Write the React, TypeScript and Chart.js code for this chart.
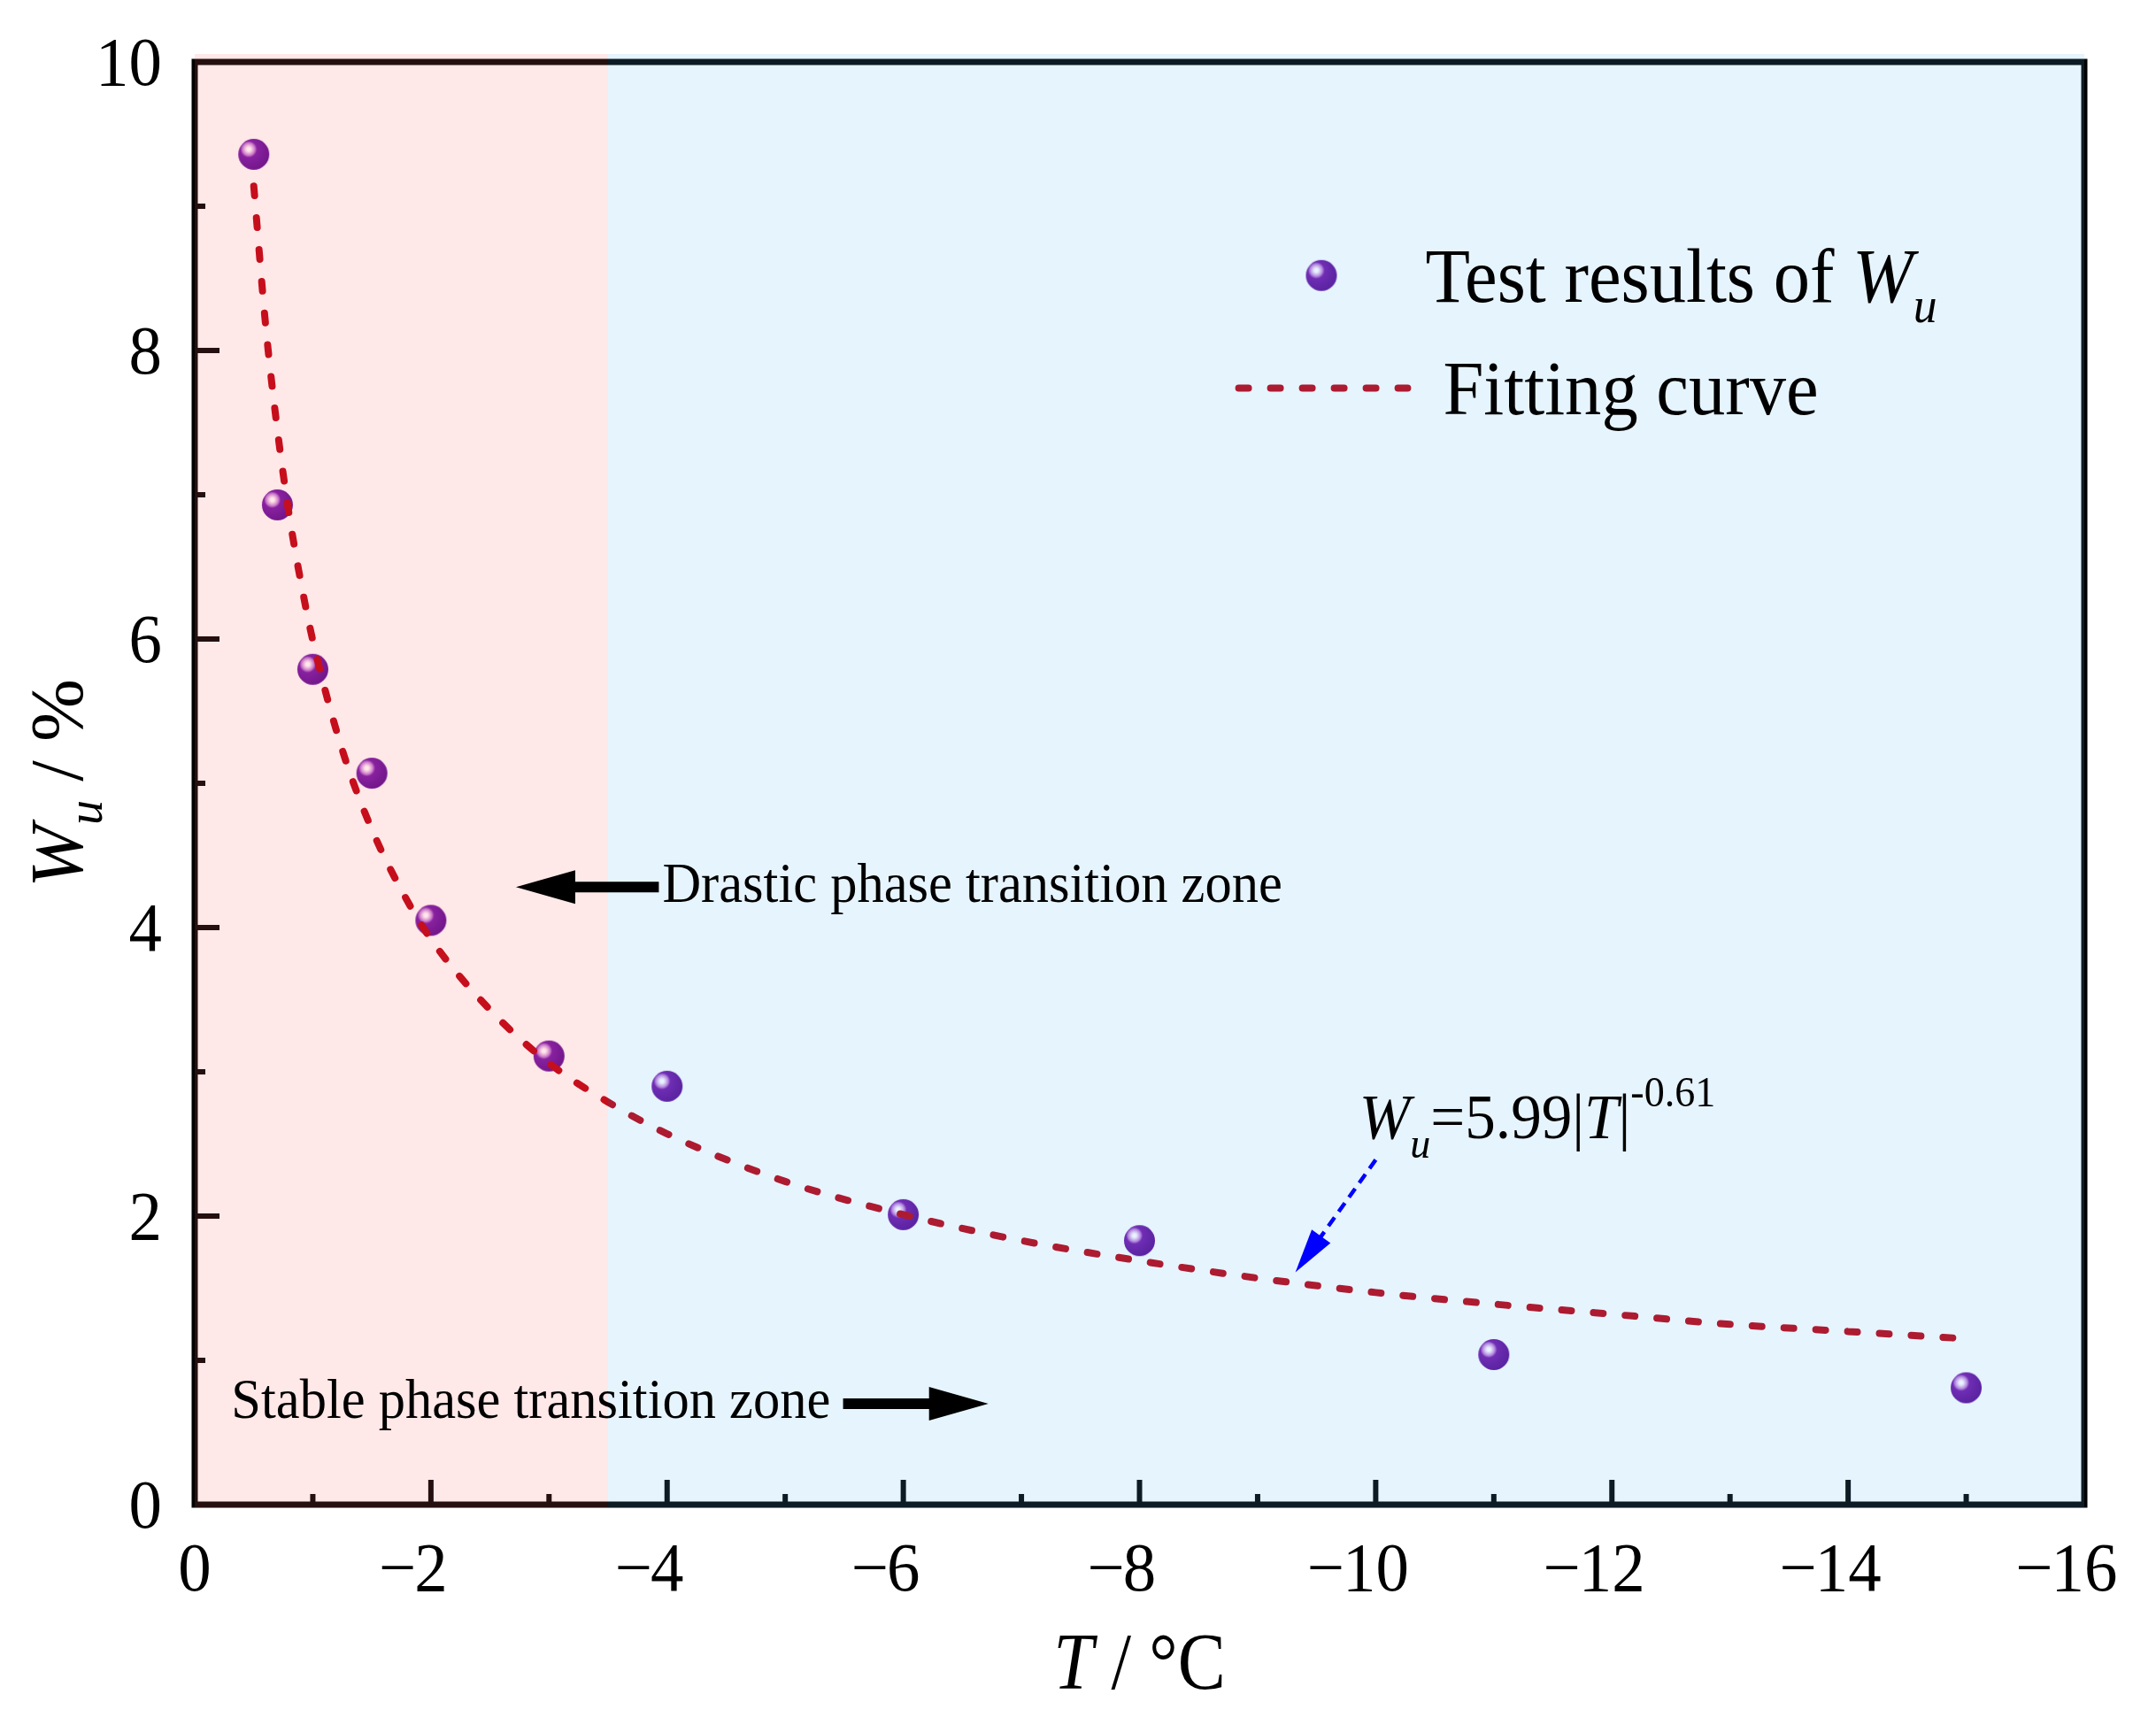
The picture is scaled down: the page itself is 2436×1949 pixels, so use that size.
import { useEffect, useRef } from "react";
import { Chart, registerables } from "chart.js";

Chart.register(...registerables);

// measured water content (test points)
const testT = [-0.5, -0.7, -1, -1.5, -2, -3, -4, -6, -8, -11, -15];
const testW = [9.36, 6.93, 5.79, 5.07, 4.05, 3.11, 2.9, 2.01, 1.83, 1.04, 0.81];

// fitting curve
const fitT = [-0.5, -0.6, -0.7, -0.8, -0.9, -1, -1.25, -1.5, -1.75, -2, -2.5, -3, -3.5, -4, -5, -6, -7, -8, -9, -10, -11, -12, -13, -14, -15];
const fitW = [9.14, 8.18, 7.45, 6.86, 6.39, 5.99, 5.23, 4.68, 4.26, 3.92, 3.43, 3.06, 2.79, 2.57, 2.24, 2.01, 1.83, 1.69, 1.57, 1.47, 1.39, 1.32, 1.25, 1.2, 1.15];

const xRange = [-16, 0];
const yRange = [0, 10];
const zoneBoundary = -3.5;

const SERIF = '"Liberation Serif", "Times New Roman", serif';
const CURVE = "#bd0010";
const PINK = "rgba(255, 102, 102, 0.15)";
const BLUE = "rgba(88, 182, 242, 0.15)";
const SX = 0.96;

type Seg = { t: string; font: string; dy?: number };

const f = (size: number, italic = false) => `${italic ? "italic " : ""}${size}px ${SERIF}`;

function drawRich(ctx: CanvasRenderingContext2D, segs: Seg[], x: number, y: number, align: "left" | "center" | "right", sx = SX) {
  ctx.save();
  ctx.translate(x, y);
  ctx.scale(sx, 1);
  ctx.textAlign = "left";
  ctx.textBaseline = "alphabetic";
  ctx.fillStyle = "#000";
  let total = 0;
  segs.forEach((s) => {
    ctx.font = s.font;
    total += ctx.measureText(s.t).width;
  });
  let cx = align === "left" ? 0 : align === "center" ? -total / 2 : -total;
  segs.forEach((s) => {
    ctx.font = s.font;
    ctx.fillText(s.t, cx, s.dy ?? 0);
    cx += ctx.measureText(s.t).width;
  });
  ctx.restore();
}

function makeBall(r: number) {
  const c = document.createElement("canvas");
  const s = Math.ceil(r * 2) + 2;
  c.width = s;
  c.height = s;
  const g = c.getContext("2d")!;
  const cx = s / 2;
  const cy = s / 2;
  const hx = cx - r * 0.33;
  const hy = cy - r * 0.33;
  const grad = g.createRadialGradient(hx, hy, 0, hx, hy, r * 1.35);
  grad.addColorStop(0, "#ffffff");
  grad.addColorStop(0.08, "#ffffff");
  grad.addColorStop(0.18, "#eac6f2");
  grad.addColorStop(0.3, "#bf7ad8");
  grad.addColorStop(0.4, "#7416aa");
  grad.addColorStop(1, "#5c0a94");
  g.fillStyle = grad;
  g.beginPath();
  g.arc(cx, cy, r, 0, Math.PI * 2);
  g.fill();
  return c;
}

// block arrow: tip at (tx, ty), tail at (sx, sy)
function blockArrow(ctx: CanvasRenderingContext2D, sx: number, sy: number, tx: number, ty: number) {
  const ang = Math.atan2(ty - sy, tx - sx);
  const len = Math.hypot(tx - sx, ty - sy);
  ctx.save();
  ctx.translate(tx, ty);
  ctx.rotate(ang);
  ctx.fillStyle = "#000";
  ctx.beginPath();
  ctx.moveTo(0, 0);
  ctx.lineTo(-67, -19);
  ctx.lineTo(-67, -6);
  ctx.lineTo(-len, -6);
  ctx.lineTo(-len, 6);
  ctx.lineTo(-67, 6);
  ctx.lineTo(-67, 19);
  ctx.closePath();
  ctx.fill();
  ctx.restore();
}

export default function App() {
  const canvasRef = useRef<HTMLCanvasElement | null>(null);
  const chartRef = useRef<Chart | null>(null);

  useEffect(() => {
    document.body.style.margin = "0";
    if (!canvasRef.current) return;
    if (chartRef.current) chartRef.current.destroy();

    const ball = makeBall(17.5);

    const decor = {
      id: "decor",
      afterDatasetsDraw(chart: any) {
        const { ctx, chartArea, scales } = chart;
        const { left, right, top, bottom } = chartArea;
        const x = scales.x;
        const y = scales.y;
        const X = (v: number) => x.getPixelForValue(v);
        const Y = (v: number) => y.getPixelForValue(v);

        // legend markers
        ctx.drawImage(ball, X(-9.54) - ball.width / 2, Y(8.52) - ball.height / 2);
        ctx.save();
        ctx.strokeStyle = CURVE;
        ctx.lineWidth = 8;
        ctx.lineCap = "round";
        ctx.setLineDash([11, 25]);
        ctx.beginPath();
        ctx.moveTo(X(-8.84), Y(7.74));
        ctx.lineTo(X(-10.27), Y(7.74));
        ctx.stroke();
        ctx.restore();

        // frame + inward ticks
        ctx.save();
        ctx.strokeStyle = "#000";
        ctx.fillStyle = "#000";
        ctx.lineWidth = 7;
        ctx.strokeRect(left, top, right - left, bottom - top);
        for (let i = 1; i < 16; i++) {
          const px = X(-i);
          const len = i % 2 === 0 ? 28 : 12;
          ctx.fillRect(px - 3, bottom - len, 6, len);
        }
        for (let j = 1; j < 10; j++) {
          const py = Y(j);
          const len = j % 2 === 0 ? 28 : 12;
          ctx.fillRect(left, py - 3, len, 6);
        }
        // zone shading on top
        const bx = X(zoneBoundary);
        ctx.fillStyle = PINK;
        ctx.fillRect(left, top - 9, bx - left, bottom - top + 12);
        ctx.fillStyle = BLUE;
        ctx.fillRect(bx, top - 9, right - bx, bottom - top + 12);
        ctx.restore();
      },
      afterDraw(chart: any) {
        const { ctx, chartArea, scales } = chart;
        const { left, right, top, bottom } = chartArea;
        const x = scales.x;
        const y = scales.y;
        const X = (v: number) => x.getPixelForValue(v);
        const Y = (v: number) => y.getPixelForValue(v);

        // tick labels
        y.ticks.forEach((t: any) => {
          drawRich(ctx, [{ t: String(t.value), font: f(78) }], left - 37, Y(t.value) + 26, "right");
        });
        x.ticks.forEach((t: any) => {
          const v = t.value;
          const num = String(Math.abs(v));
          const px = X(v);
          ctx.save();
          ctx.font = f(78);
          const w = ctx.measureText(num).width * SX;
          ctx.restore();
          drawRich(ctx, [{ t: num, font: f(78) }], px, bottom + 97, "center");
          if (v !== 0) drawRich(ctx, [{ t: "\u2212", font: f(78) }], px - w / 2 + 2, bottom + 97, "right");
        });

        // axis titles
        drawRich(
          ctx,
          [
            { t: "T", font: f(90, true) },
            { t: " / \u00b0C", font: f(90) },
          ],
          (left + right) / 2,
          bottom + 208,
          "center",
          0.9
        );
        ctx.save();
        ctx.translate(93, (top + bottom) / 2);
        ctx.rotate(-Math.PI / 2);
        drawRich(
          ctx,
          [
            { t: "W", font: f(85, true) },
            { t: "u", font: f(56, true), dy: 22 },
            { t: " / %", font: f(85) },
          ],
          0,
          0,
          "center",
          1
        );
        ctx.restore();

        // legend text
        drawRich(
          ctx,
          [
            { t: "Test results of ", font: f(86) },
            { t: "W", font: f(86, true) },
            { t: "u", font: f(56, true), dy: 23 },
          ],
          X(-10.42),
          Y(8.34),
          "left"
        );
        drawRich(ctx, [{ t: "Fitting curve", font: f(86) }], X(-10.57), Y(7.56), "left");

        // zone annotations
        drawRich(ctx, [{ t: "Drastic phase transition zone", font: f(63) }], X(-3.96), Y(4.18), "left");
        blockArrow(ctx, X(-3.93), Y(4.28), X(-2.72), Y(4.28));
        drawRich(ctx, [{ t: "Stable phase transition zone", font: f(63) }], X(-0.31), Y(0.6), "left");
        blockArrow(ctx, X(-5.49), Y(0.7), X(-6.72), Y(0.7));

        // fitted equation
        drawRich(
          ctx,
          [
            { t: "W", font: f(72, true) },
            { t: "u", font: f(48, true), dy: 22 },
            { t: "=5.99|", font: f(72) },
            { t: "T", font: f(72, true) },
            { t: "|", font: f(72) },
            { t: "-0.61", font: f(48), dy: -36 },
          ],
          X(-9.86),
          Y(2.54),
          "left"
        );

        // blue dashed pointer
        const sx0 = X(-10.0);
        const sy0 = Y(2.39);
        const tx = X(-9.32);
        const ty = Y(1.61);
        const ang = Math.atan2(ty - sy0, tx - sx0);
        const len = Math.hypot(tx - sx0, ty - sy0);
        ctx.save();
        ctx.translate(tx, ty);
        ctx.rotate(ang);
        ctx.strokeStyle = "#0000ff";
        ctx.fillStyle = "#0000ff";
        ctx.lineWidth = 4.5;
        ctx.setLineDash([12, 8]);
        ctx.beginPath();
        ctx.moveTo(-len, 0);
        ctx.lineTo(-44, 0);
        ctx.stroke();
        ctx.setLineDash([]);
        ctx.beginPath();
        ctx.moveTo(0, 0);
        ctx.lineTo(-50, -13);
        ctx.lineTo(-50, 13);
        ctx.closePath();
        ctx.fill();
        ctx.restore();
      },
    };

    chartRef.current = new Chart(canvasRef.current, {
      type: "scatter",
      data: {
        datasets: [
          {
            label: "Fitting curve",
            data: fitT.map((t, i) => ({ x: t, y: fitW[i] })),
            showLine: true,
            borderColor: CURVE,
            borderWidth: 8,
            borderDash: [11, 25],
            borderCapStyle: "round",
            pointRadius: 0,
            cubicInterpolationMode: "monotone",
            order: 1,
          },
          {
            label: "Test results of Wu",
            data: testT.map((t, i) => ({ x: t, y: testW[i] })),
            pointStyle: ball,
            pointRadius: 18,
            showLine: false,
            order: 2,
          },
        ],
      },
      options: {
        responsive: true,
        maintainAspectRatio: false,
        animation: false,
        layout: { padding: { top: 70, right: 81, bottom: 0, left: 0 } },
        plugins: {
          legend: { display: false },
          tooltip: { enabled: false },
        },
        scales: {
          x: {
            type: "linear",
            min: xRange[0],
            max: xRange[1],
            reverse: true,
            ticks: { stepSize: 2, display: false },
            grid: { display: false },
            border: { display: false },
            afterFit: (s: any) => {
              s.height = 249;
            },
          },
          y: {
            type: "linear",
            min: yRange[0],
            max: yRange[1],
            ticks: { stepSize: 2, display: false },
            grid: { display: false },
            border: { display: false },
            afterFit: (s: any) => {
              s.width = 220;
            },
          },
        },
      },
      plugins: [decor],
    });

    return () => {
      if (chartRef.current) {
        chartRef.current.destroy();
        chartRef.current = null;
      }
    };
  }, []);

  return (
    <div style={{ position: "relative", width: 2436, height: 1949, background: "#fff" }}>
      <canvas ref={canvasRef}></canvas>
    </div>
  );
}
